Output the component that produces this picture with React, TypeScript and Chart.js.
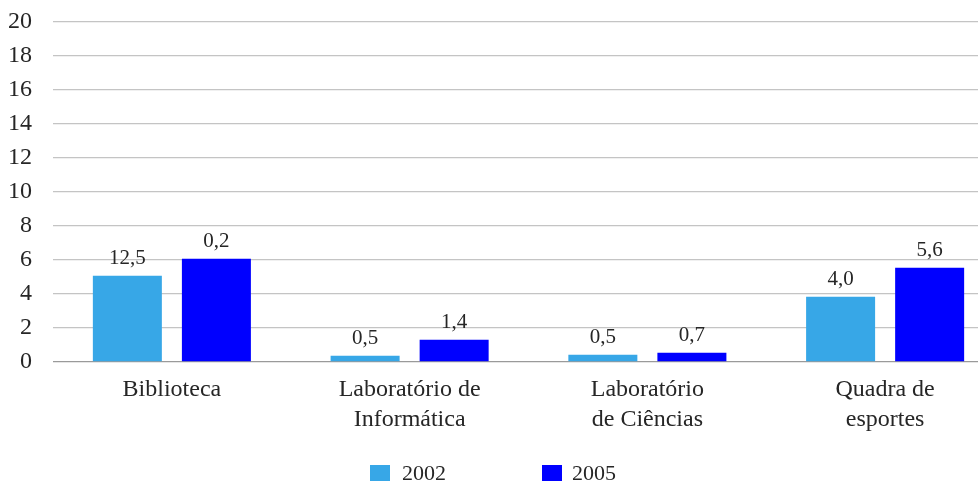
import React, { useEffect, useRef } from "react";
import { Chart, registerables } from "chart.js";

Chart.register(...registerables);

const categories: string[][] = [
  ["Biblioteca"],
  ["Laboratório de", "Informática"],
  ["Laboratório", "de Ciências"],
  ["Quadra de", "esportes"],
];
const seriesNames = ["2002", "2005"];
const values2002 = [5.07, 0.37, 0.43, 3.84];
const values2005 = [6.07, 1.31, 0.55, 5.54];
const labels2002 = ["12,5", "0,5", "0,5", "4,0"];
const labels2005 = ["0,2", "1,4", "0,7", "5,6"];
const yTicks = { min: 0, max: 20, step: 2 };

const colors = ["#37A7E7", "#0000FF"];
const FONT = "'Liberation Serif', 'Times New Roman', serif";
const TEXT = "#262626";

const valueLabels = [labels2002, labels2005];

const dataLabelPlugin = {
  id: "dataLabels",
  afterDatasetsDraw(chart: any) {
    const ctx = chart.ctx;
    ctx.save();
    ctx.font = `21px ${FONT}`;
    ctx.fillStyle = TEXT;
    ctx.textAlign = "center";
    ctx.textBaseline = "middle";
    chart.data.datasets.forEach((_ds: any, di: number) => {
      const meta = chart.getDatasetMeta(di);
      meta.data.forEach((el: any, i: number) => {
        ctx.fillText(valueLabels[di][i], el.x, el.y - 17);
      });
    });
    ctx.restore();
  },
};

export default function App() {
  const ref = useRef<HTMLCanvasElement | null>(null);
  useEffect(() => {
    if (!ref.current) return;
    const chart = new Chart(ref.current, {
      type: "bar",
      data: {
        labels: categories,
        datasets: [
          {
            label: seriesNames[0],
            data: values2002,
            backgroundColor: colors[0],
            categoryPercentage: 0.749,
            barPercentage: 0.775,
          },
          {
            label: seriesNames[1],
            data: values2005,
            backgroundColor: colors[1],
            categoryPercentage: 0.749,
            barPercentage: 0.775,
          },
        ],
      },
      options: {
        animation: false,
        responsive: false,
        maintainAspectRatio: false,
        layout: { padding: { top: 22, left: 7, right: 0, bottom: 47 } },
        plugins: {
          legend: { display: false },
          tooltip: { enabled: false },
        },
        scales: {
          x: {
            grid: { display: false, drawTicks: false },
            border: { display: false },
            afterFit: (s: any) => {
              s.height = 73;
              s.paddingLeft = 0;
              s.paddingRight = 0;
            },
            ticks: {
              color: TEXT,
              font: { family: FONT, size: 24, lineHeight: 1.25 },
              padding: 13,
              maxRotation: 0,
              autoSkip: false,
            },
          },
          y: {
            min: yTicks.min,
            max: yTicks.max,
            afterFit: (s: any) => {
              s.width = 46;
              s.paddingTop = 0;
              s.paddingBottom = 0;
            },
            grid: {
              drawTicks: false,
              color: (c: any) => (c.tick && c.tick.value === 0 ? "#9a9a9a" : "#c4c4c4"),
              lineWidth: 1.3,
            },
            border: { display: false },
            ticks: {
              stepSize: yTicks.step,
              color: TEXT,
              font: { family: FONT, size: 24 },
              padding: 21,
            },
          },
        },
      },
      plugins: [dataLabelPlugin],
    });
    return () => chart.destroy();
  }, []);

  const legendText: React.CSSProperties = {
    position: "absolute",
    top: 473,
    transform: "translateY(-50%)",
    fontFamily: FONT,
    fontSize: 22,
    color: TEXT,
    lineHeight: 1,
  };
  return (
    <div style={{ position: "absolute", left: 0, top: 0, width: 978, height: 482, overflow: "hidden", background: "#fff" }}>
      <canvas ref={ref} width={1004} height={482} style={{ display: "block", width: 1004, height: 482 }} />
      <div style={{ position: "absolute", left: 370, top: 465, width: 20, height: 16, background: colors[0] }} />
      <span style={{ ...legendText, left: 402 }}>{seriesNames[0]}</span>
      <div style={{ position: "absolute", left: 542, top: 465, width: 20, height: 16, background: colors[1] }} />
      <span style={{ ...legendText, left: 572 }}>{seriesNames[1]}</span>
    </div>
  );
}
